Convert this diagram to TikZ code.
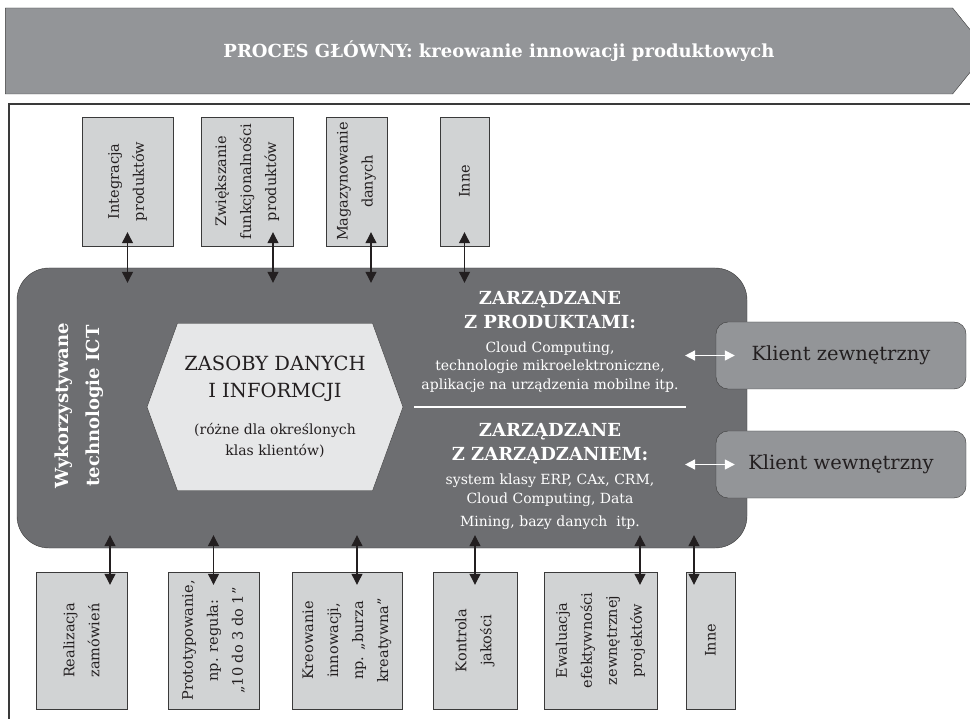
\documentclass[tikz,border=0pt]{standalone}
\usepackage{fontspec}
\setmainfont{DejaVu Serif}
\usetikzlibrary{arrows.meta,shapes.symbols}
\definecolor{procgray}{HTML}{939598}
\definecolor{ictgray}{HTML}{6D6E71}
\definecolor{boxgray}{HTML}{D1D3D4}
\definecolor{hexgray}{HTML}{E6E7E8}
\definecolor{ink}{HTML}{231F20}
\definecolor{linegray}{HTML}{3A3A3A}
\begin{document}
\begin{tikzpicture}[x=1pt,y=-1pt,
    proc/.style={signal, signal to=east, signal pointer angle=102, draw=linegray, fill=procgray,
      minimum width=982pt, minimum height=86pt},
    task/.style={rotate=90, draw=linegray, fill=boxgray, text=ink, align=center, inner sep=0pt,
      font=\fontsize{14.5}{25}\selectfont},
    ict/.style={rectangle, rounded corners=32pt, draw=linegray, fill=ictgray,
      minimum width=730pt, minimum height=280pt},
    zasoby/.style={signal, signal to=west and east, signal pointer angle=140, draw=linegray, fill=hexgray,
      minimum width=256pt, minimum height=167pt},
    klient/.style={rectangle, rounded corners=12pt, draw=linegray, fill=procgray, text=ink,
      minimum width=250pt, minimum height=67pt, font=\fontsize{19.5}{24}\selectfont},
    head/.style={text=white, align=center, font=\bfseries\fontsize{18}{24}\selectfont},
    note/.style={text=white, align=center, font=\fontsize{14}{18.5}\selectfont},
    link/.style={{Triangle[width=11pt,length=11pt]}-{Triangle[width=11pt,length=11pt]}, line width=1.2pt, draw=ink},
    wlink/.style={{Triangle[width=10pt,length=10pt]}-{Triangle[width=10pt,length=10pt]}, line width=1.5pt, white}
  ]
  \useasboundingbox (0,0) rectangle (970,719);
  \draw[linegray, line width=1.2pt] (9,719) |- (970,104);
  \node[proc] (proces) at (479,51) {};
  \node[text=white, font=\bfseries\fontsize{18}{22}\selectfont] (procestext) at (499,51)
    {PROCES GŁÓWNY: kreowanie innowacji produktowych};

  \node[ict] (ict) at (382,408) {};
  \node[rotate=90, text=white, align=center, font=\bfseries\fontsize{18}{31}\selectfont] (ictlabel) at (79,406)
    {Wykorzystywane\\technologie ICT};
  \node[zasoby] (zasoby) at (275,407) {};
  \node[text=ink, align=center, font=\fontsize{19.5}{27}\selectfont] (zastitle) at (275,379)
    {ZASOBY DANYCH\\I INFORMCJI};
  \node[text=ink, align=center, font=\fontsize{14}{21}\selectfont] (zasnote) at (275,440)
    {(różne dla określonych\\klas klientów)};

  \node[head] (prodhead) at (550,310) {ZARZĄDZANE\\Z PRODUKTAMI:};
  \node[note] (prodtext) at (550,367) {Cloud Computing,\\technologie mikroelektroniczne,\\aplikacje na urządzenia mobilne itp.};
  \draw[white, line width=2.5pt] (414,407) -- (686,407);
  \node[head] (mgmthead) at (550,443.5) {ZARZĄDZANE\\Z ZARZĄDZANIEM:};
  \node[note] (mgmttext) at (550,502) {system klasy ERP, CAx, CRM,\\Cloud Computing, Data\\[5pt]Mining, bazy danych~~itp.};

  \node[klient] (klientz) at (841,355.5) {Klient zewnętrzny};
  \node[klient] (klientw) at (841,464.5) {Klient wewnętrzny};

  \node[task, minimum width=129pt, minimum height=91pt] (t1) at (127.5,181.5) {Integracja\\produktów};
  \node[task, minimum width=129pt, minimum height=92pt] (t2) at (247,181.5) {Zwiększanie\\funkcjonalności\\produktów};
  \node[task, minimum width=129pt, minimum height=61pt] (t3) at (356.5,181.5) {Magazynowanie\\danych};
  \node[task, minimum width=129pt, minimum height=49pt] (t4) at (464.5,181.5) {Inne};

  \node[task, minimum width=137pt, minimum height=91pt] (b1) at (81.5,640.5) {Realizacja\\zamówień};
  \node[task, minimum width=137pt, minimum height=91pt] (b2) at (213.5,640.5) {Prototypowanie,\\np. reguła:\\„10 do 3 do 1”};
  \node[task, minimum width=137pt, minimum height=110pt] (b3) at (347,640.5) {Kreowanie\\innowacji,\\np. „burza\\kreatywna”};
  \node[task, minimum width=137pt, minimum height=84pt] (b4) at (475,640.5) {Kontrola\\jakości};
  \node[task, minimum width=137pt, minimum height=113pt] (b5) at (600.5,640.5) {Ewaluacja\\efektywności\\zewnętrznej\\projektów};
  \node[task, minimum width=137pt, minimum height=49pt] (b6) at (710.5,640.5) {Inne};

  \begin{scope}[link, shorten <=-14pt, shorten >=-15pt]
    \draw (t1.west) -- (t1.west |- ict.north);
    \draw ([xshift=26pt]t2.west) -- ([xshift=26pt]t2.west |- ict.north);
    \draw ([xshift=14.5pt]t3.west) -- ([xshift=14.5pt]t3.west |- ict.north);
    \draw (t4.west) -- (t4.west |- ict.north);
  \end{scope}
  \begin{scope}[link, shorten <=-13pt, shorten >=-13pt]
    \draw ([xshift=28.5pt]b1.east) -- ([xshift=28.5pt]b1.east |- ict.south);
    \draw (b2.east) -- (b2.east |- ict.south);
    \draw ([xshift=10pt]b3.east) -- ([xshift=10pt]b3.east |- ict.south);
    \draw (b4.east) -- (b4.east |- ict.south);
    \draw ([xshift=39.5pt]b5.east) -- ([xshift=39.5pt]b5.east |- ict.south);
    \draw ([xshift=-16.5pt]b6.east) -- ([xshift=-16.5pt]b6.east |- ict.south);
  \end{scope}
  \begin{scope}[wlink, shorten <=3pt, shorten >=-19pt]
    \draw (prodtext.east |- klientz.west) -- (klientz.west);
    \draw (prodtext.east |- klientw.west) -- (klientw.west);
  \end{scope}
\end{tikzpicture}
\end{document}
